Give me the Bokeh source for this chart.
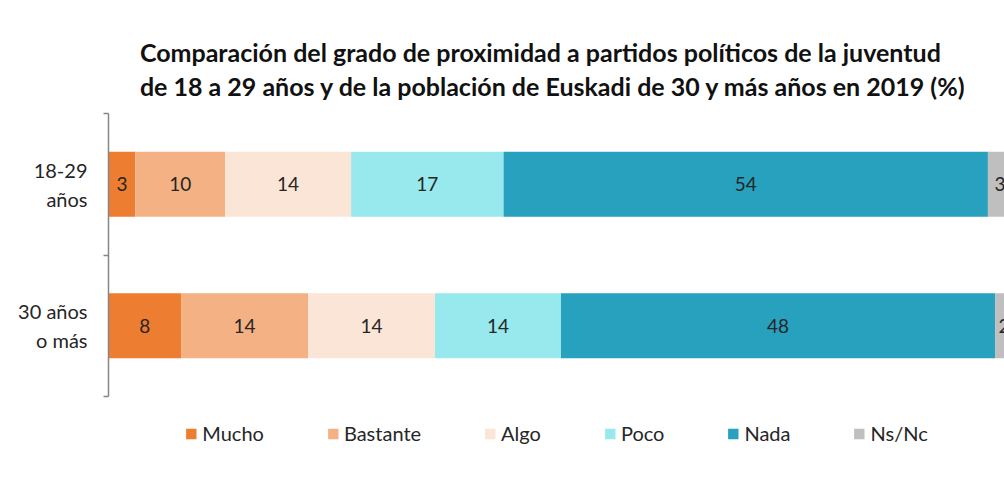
from bokeh.plotting import figure
from bokeh.models import ColumnDataSource, Range1d, FixedTicker, Legend, LegendItem
from bokeh.embed import file_html
from bokeh.resources import INLINE
from bokeh.core.properties import value

# ---- data ----
categories = ["18-29\naños", "30 años\no más"]
series = ["Mucho", "Bastante", "Algo", "Poco", "Nada", "Ns/Nc"]
mucho = [3.0, 8.1]
bastante = [10.0, 14.15]
algo = [14.05, 14.15]
poco = [17.0, 14.05]
nada = [54.0, 48.4]
nsnc = [2.7, 2.0]
colors = ["#ED7D31", "#F4B183", "#FBE5D6", "#97E9ED", "#27A1BE", "#BFBFBF"]

title1 = "Comparación  del grado de proximidad a partidos políticos de la juventud"
title2 = "de 18 a 29 años y de la población  de Euskadi de 30 y más años en 2019 (%)"

FONT = "Lato"
TXT = "#262626"

ypos = [len(categories) - i - 0.5 for i in range(len(categories))]
data = {"y": ypos, "Mucho": mucho, "Bastante": bastante, "Algo": algo,
        "Poco": poco, "Nada": nada, "Ns/Nc": nsnc}
src = ColumnDataSource(data)

p = figure(frame_width=896, frame_height=283, output_backend="svg", toolbar_location=None,
           x_range=Range1d(0, 99.9), y_range=Range1d(0, len(categories)),
           x_axis_location=None, min_border_left=108, min_border_right=0,
           min_border_top=113, min_border_bottom=70)
p.grid.visible = False
p.outline_line_color = None

renderers = p.hbar_stack(series, y="y", height=0.46, fill_color=colors,
                         line_color=None, source=src)

# data labels
xs, ys, texts = [], [], []
left = [0.0] * len(categories)
for s in series:
    for i, v in enumerate(data[s]):
        xs.append(left[i] + v / 2)
        ys.append(ypos[i])
        texts.append(f"{v:.0f}")
        left[i] += v
p.text(x=xs, y=ys, text=texts, text_align="center", text_baseline="middle",
       text_font=value(FONT), text_font_size="19px", text_color=TXT)

# y axis
ax = p.yaxis[0]
ax.ticker = FixedTicker(ticks=ypos, minor_ticks=list(range(len(categories) + 1)))
ax.major_label_overrides = {y: c for y, c in zip(ypos, categories)}
ax.major_tick_line_color = None
ax.minor_tick_line_color = "#868686"
ax.minor_tick_out = 5
ax.minor_tick_in = 0
ax.minor_tick_line_width = 1.5
ax.axis_line_color = "#868686"
ax.axis_line_width = 1.5
ax.major_label_standoff = 15
ax.major_label_text_font = FONT
ax.major_label_text_font_size = "20px"
ax.major_label_text_color = TXT
ax.major_label_text_align = "center"

# title (two lines)
p.title.text = title1 + "\n" + title2
p.title.align = "center"
p.title.text_font = FONT
p.title.text_font_size = "25px"
p.title.text_font_style = "bold"
p.title.text_color = "#111111"
p.title.text_line_height = 1.12
p.title.standoff = 25

# legend
legend = Legend(items=[LegendItem(label=s, renderers=[r]) for s, r in zip(series, renderers)],
                orientation="horizontal", location="top_center", glyph_width=13, glyph_height=13,
                label_standoff=5, spacing=62, border_line_color=None,
                background_fill_alpha=0, label_text_font=FONT, label_text_font_size="20px",
                label_text_color=TXT, margin=25, padding=0)
p.add_layout(legend, "below")

open("out.html", "w").write(file_html(p, INLINE))
